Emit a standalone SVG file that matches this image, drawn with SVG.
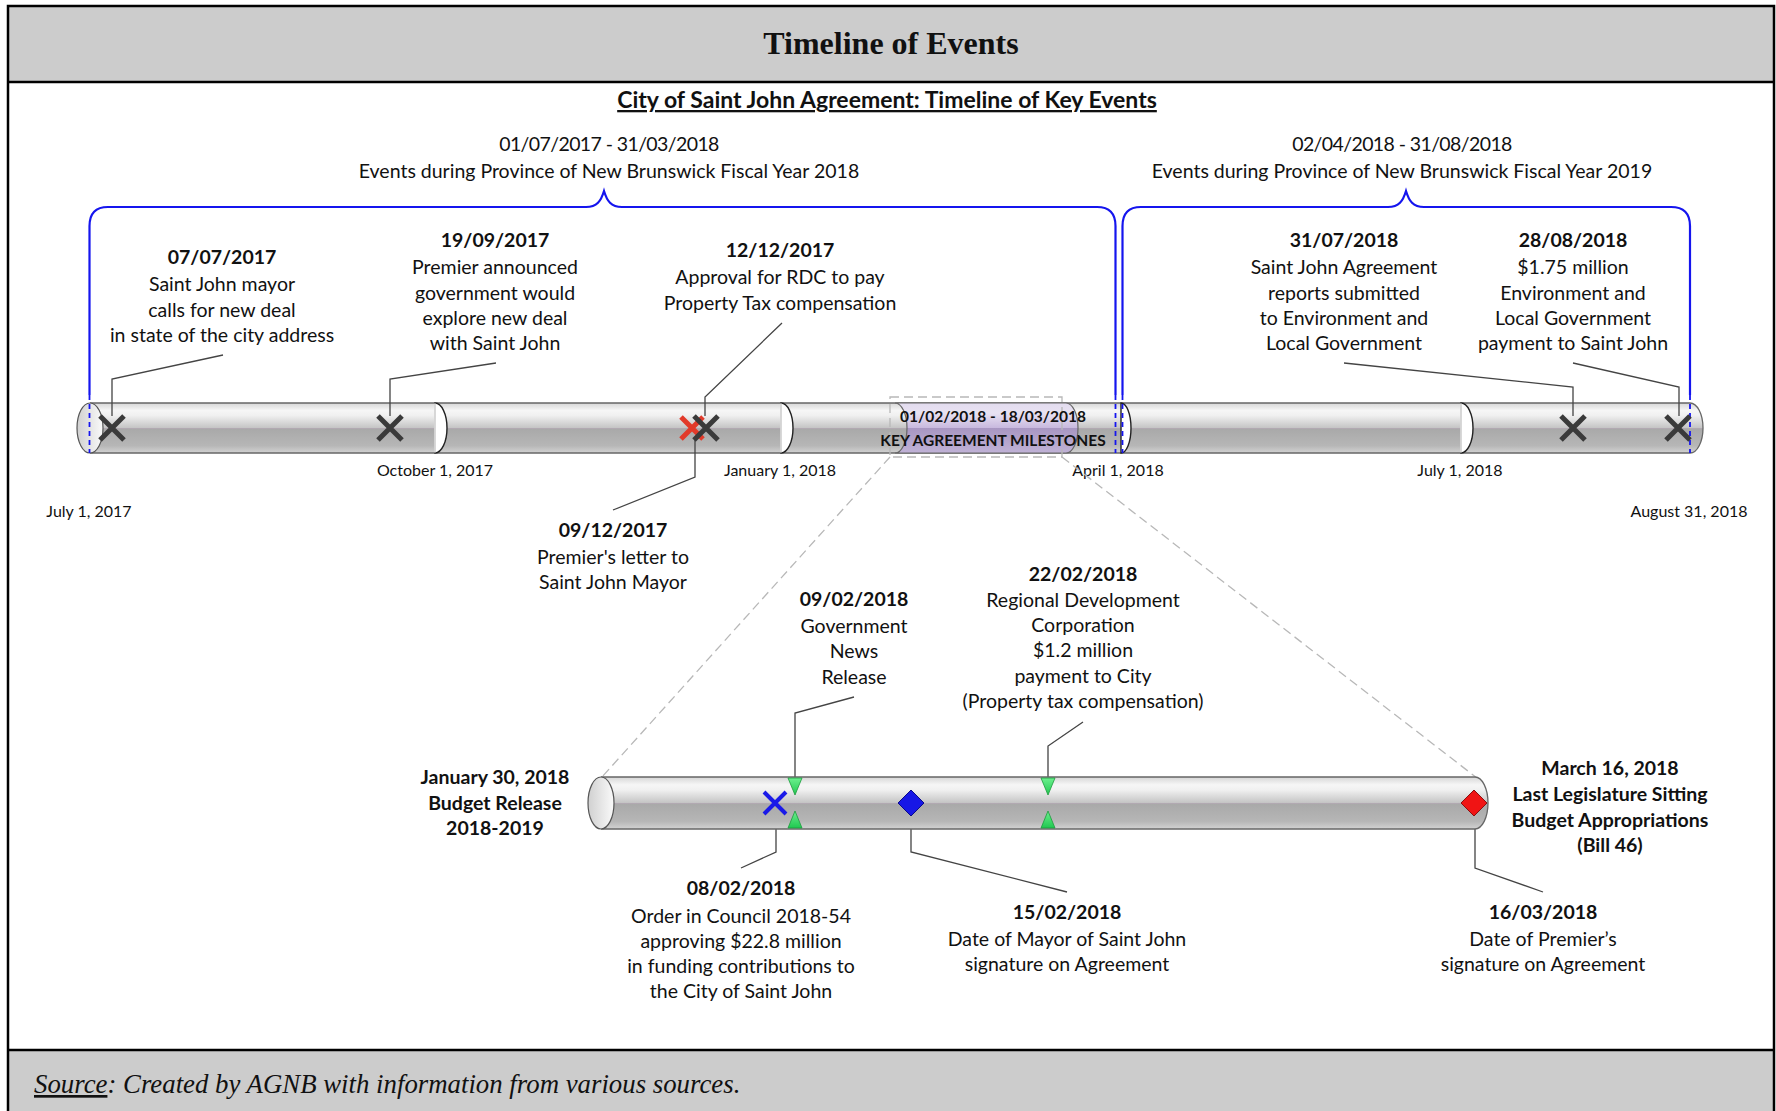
<svg xmlns="http://www.w3.org/2000/svg" width="1776" height="1111" viewBox="0 0 1776 1111">
<defs>
<style>
.t{font-family:Lato,"Liberation Sans",sans-serif;font-size:19.5px;fill:#111;text-anchor:middle}
.b{font-weight:bold}
.ax{font-family:Lato,"Liberation Sans",sans-serif;font-size:16px;fill:#111;text-anchor:middle}
.ms{font-family:Lato,"Liberation Sans",sans-serif;font-size:15.5px;font-weight:bold;fill:#111;text-anchor:middle}
.ld{fill:none;stroke:#444;stroke-width:1.3}
.brace{fill:none;stroke:#1515ee;stroke-width:2.2}
.bdash{fill:none;stroke:#1515ee;stroke-width:1.8;stroke-dasharray:5 4}
.xm{stroke:#3a3a3a;stroke-width:5;fill:none}
.edge{fill:none;stroke:#666;stroke-width:1.3}
.div{fill:#fff;stroke:#222;stroke-width:1.4}
.tri{fill:url(#gGreen);stroke:#1c9a3c;stroke-width:0.8}
.zoom{fill:none;stroke:#b8b8b8;stroke-width:1.3;stroke-dasharray:9 5}
</style>
<linearGradient id="gTube" x1="0" y1="0" x2="0" y2="1">
<stop offset="0" stop-color="#d6d6d6"/>
<stop offset="0.15" stop-color="#f6f6f6"/>
<stop offset="0.25" stop-color="#f0f0f0"/>
<stop offset="0.49" stop-color="#c6c6c6"/>
<stop offset="0.5" stop-color="#b9a9b9"/>
<stop offset="0.52" stop-color="#a9a9a9"/>
<stop offset="0.85" stop-color="#b6b6b6"/>
<stop offset="1" stop-color="#d2d2d2"/>
</linearGradient>
<linearGradient id="gCap" x1="0" y1="0" x2="1" y2="0">
<stop offset="0" stop-color="#d0d0d0"/>
<stop offset="1" stop-color="#fafafa"/>
</linearGradient>
<linearGradient id="gPurple" x1="0" y1="0" x2="0" y2="1">
<stop offset="0" stop-color="#e2dbee"/>
<stop offset="0.2" stop-color="#e8e2f2"/>
<stop offset="0.49" stop-color="#c9badf"/>
<stop offset="0.5" stop-color="#a896c2"/>
<stop offset="1" stop-color="#c0b2d6"/>
</linearGradient>
<linearGradient id="gGreen" x1="0" y1="0" x2="0" y2="1">
<stop offset="0" stop-color="#6cf08e"/>
<stop offset="1" stop-color="#20c850"/>
</linearGradient>
</defs>

<!-- frame -->
<rect x="0" y="0" width="1776" height="1111" fill="#fff"/>
<rect x="8" y="6" width="1766" height="76" fill="#cccccc"/>
<rect x="8" y="1050" width="1766" height="61" fill="#cccccc"/>
<path d="M8,1111 V6 H1774 V1111" fill="none" stroke="#000" stroke-width="2.5"/>
<line x1="8" y1="82" x2="1774" y2="82" stroke="#000" stroke-width="2.5"/>
<line x1="8" y1="1050" x2="1774" y2="1050" stroke="#000" stroke-width="2.5"/>
<text x="891" y="54" font-family="'Liberation Serif',serif" font-size="32" font-weight="bold" text-anchor="middle" fill="#111">Timeline of Events</text>
<text x="34" y="1093" font-family="'Liberation Serif',serif" font-size="26.8" font-style="italic" fill="#111"><tspan text-decoration="underline">Source</tspan>: Created by AGNB with information from various sources.</text>

<text class="t b" x="887" y="108" font-size="23" style="font-size:23px" text-decoration="underline">City of Saint John Agreement: Timeline of Key Events</text>

<!-- period headers -->
<g id="period-fy2018">
<text class="t" x="609" y="151" letter-spacing="-0.6">01/07/2017 - 31/03/2018</text>
<text class="t" x="609" y="178">Events during Province of New Brunswick Fiscal Year 2018</text>
<path class="brace" d="M89.5,395 V226 Q89.5,207 108,207 H586 C597,207 601,201 604,191 C607,201 611,207 622,207 H1097 Q1115.5,207 1115.5,226 V395"/>
</g>
<g id="period-fy2019">
<text class="t" x="1402" y="151" letter-spacing="-0.6">02/04/2018 - 31/08/2018</text>
<text class="t" x="1402" y="178">Events during Province of New Brunswick Fiscal Year 2019</text>
<path class="brace" d="M1122.5,395 V226 Q1122.5,207 1141,207 H1388 C1399,207 1403,201 1406,191 C1409,201 1413,207 1424,207 H1671 Q1690,207 1690,226 V395"/>
</g>

<!-- main timeline tube -->
<g id="main-timeline">
<rect x="90" y="403" width="1600" height="50" fill="url(#gTube)"/>
<path d="M1690,403 A13,25 0 0 1 1690,453" fill="url(#gTube)" stroke="#666" stroke-width="1.3"/>
<line class="edge" x1="90" y1="403" x2="1690" y2="403"/>
<line class="edge" x1="90" y1="453" x2="1690" y2="453"/>
<ellipse cx="90" cy="428" rx="13" ry="25" fill="url(#gCap)" stroke="#555" stroke-width="1.2"/>
<path class="div" d="M435,403 A12,25 0 0 1 435,453 Z"/>
<path class="div" d="M781,403 A12,25 0 0 1 781,453 Z"/>
<path class="div" d="M1121,403 A10,25 0 0 1 1121,453 Z"/>
<path class="div" d="M1461,403 A12,25 0 0 1 1461,453 Z"/>
<line x1="435" y1="403.6" x2="435" y2="452.4" stroke="#fff" stroke-width="1.5"/>
<line x1="781" y1="403.6" x2="781" y2="452.4" stroke="#fff" stroke-width="1.5"/>
<line x1="1461" y1="403.6" x2="1461" y2="452.4" stroke="#fff" stroke-width="1.5"/>
<path class="bdash" d="M89.5,395 V453 M1115.5,395 V453 M1122.5,395 V453 M1690,395 V453"/>
<text class="ax" x="435" y="476">October 1, 2017</text>
<text class="ax" x="780" y="476">January 1, 2018</text>
<text class="ax" x="1118" y="476">April 1, 2018</text>
<text class="ax" x="1460" y="476">July 1, 2018</text>
<text class="ax" x="89" y="517">July 1, 2017</text>
<text class="ax" x="1689" y="517">August 31, 2018</text>
</g>

<!-- key milestones zone -->
<g id="key-milestones">
<path d="M895,403 A12,25 0 0 1 895,453 H1066 A12,25 0 0 0 1066,403 Z" fill="url(#gPurple)" stroke="#666" stroke-width="1.2"/>
<rect class="zoom" x="890" y="397" width="172" height="60"/>
<text class="ms" x="993" y="422">01/02/2018 - 18/03/2018</text>
<text class="ms" x="993" y="446">KEY AGREEMENT MILESTONES</text>
</g>

<!-- connectors -->
<g id="connectors">
<path class="ld" d="M223,355 L112,379 V416"/>
<path class="ld" d="M496,363 L390,379 V416"/>
<path class="ld" d="M782,323 L705,397 V416"/>
<path class="ld" d="M695,440 V477 L613,510"/>
<path class="ld" d="M1344,363 L1573,387 V416"/>
<path class="ld" d="M1573,363 L1679,387 V416"/>
<path class="zoom" d="M890,457 L602,777"/>
<path class="zoom" d="M1062,457 L1477,778"/>
<path class="ld" d="M854,697 L795,713 V778"/>
<path class="ld" d="M1083,722 L1048,746 V778"/>
<path class="ld" d="M776,815 V852 L741,868"/>
<path class="ld" d="M911,816 V852 L1067,892"/>
<path class="ld" d="M1475,816 V868 L1543,892"/>
</g>

<!-- upper events -->
<g id="ev-20170707">
<path class="xm" d="M100,416 L124,440 M124,416 L100,440"/>
<text class="t b" x="222" y="264">07/07/2017</text>
<text class="t" x="222" y="291">Saint John mayor</text>
<text class="t" x="222" y="317">calls for new deal</text>
<text class="t" x="222" y="342">in state of the city address</text>
</g>
<g id="ev-20170919">
<path class="xm" d="M378,416 L402,440 M402,416 L378,440"/>
<text class="t b" x="495" y="247">19/09/2017</text>
<text class="t" x="495" y="274">Premier announced</text>
<text class="t" x="495" y="300">government would</text>
<text class="t" x="495" y="325">explore new deal</text>
<text class="t" x="495" y="350">with Saint John</text>
</g>
<g id="ev-20171209">
<path d="M681,417 L703,439 M703,417 L681,439" stroke="#e23a2a" stroke-width="5" fill="none"/>
<text class="t b" x="613" y="537">09/12/2017</text>
<text class="t" x="613" y="564">Premier's letter to</text>
<text class="t" x="613" y="589">Saint John Mayor</text>
</g>
<g id="ev-20171212">
<path class="xm" d="M694,416 L718,440 M718,416 L694,440"/>
<text class="t b" x="780" y="257">12/12/2017</text>
<text class="t" x="780" y="284">Approval for RDC to pay</text>
<text class="t" x="780" y="310">Property Tax compensation</text>
</g>
<g id="ev-20180731">
<path class="xm" d="M1561,416 L1585,440 M1585,416 L1561,440"/>
<text class="t b" x="1344" y="247">31/07/2018</text>
<text class="t" x="1344" y="274">Saint John Agreement</text>
<text class="t" x="1344" y="300">reports submitted</text>
<text class="t" x="1344" y="325">to Environment and</text>
<text class="t" x="1344" y="350">Local Government</text>
</g>
<g id="ev-20180828">
<path class="xm" d="M1666,416 L1690,440 M1690,416 L1666,440"/>
<text class="t b" x="1573" y="247">28/08/2018</text>
<text class="t" x="1573" y="274">$1.75 million</text>
<text class="t" x="1573" y="300">Environment and</text>
<text class="t" x="1573" y="325">Local Government</text>
<text class="t" x="1573" y="350">payment to Saint John</text>
</g>

<!-- detail tube -->
<g id="detail-timeline">
<rect x="601" y="777" width="874" height="52" fill="url(#gTube)"/>
<path d="M1475,777 A13,26 0 0 1 1475,829" fill="url(#gTube)" stroke="#666" stroke-width="1.3"/>
<line class="edge" x1="601" y1="777" x2="1475" y2="777"/>
<line class="edge" x1="601" y1="829" x2="1475" y2="829"/>
<ellipse cx="601" cy="803" rx="13" ry="26" fill="url(#gCap)" stroke="#555" stroke-width="1.2"/>
</g>
<g id="start-budget">
<text class="t b" x="495" y="784">January 30, 2018</text>
<text class="t b" x="495" y="810">Budget Release</text>
<text class="t b" x="495" y="835">2018-2019</text>
</g>
<g id="end-legislature">
<text class="t b" x="1610" y="775">March 16, 2018</text>
<text class="t b" x="1610" y="801">Last Legislature Sitting</text>
<text class="t b" x="1610" y="827">Budget Appropriations</text>
<text class="t b" x="1610" y="852">(Bill 46)</text>
</g>
<g id="ev-20180208">
<path d="M764,792 L786,814 M786,792 L764,814" stroke="#1a1ae8" stroke-width="4" fill="none"/>
<text class="t b" x="741" y="895">08/02/2018</text>
<text class="t" x="741" y="923">Order in Council 2018-54</text>
<text class="t" x="741" y="948">approving $22.8 million</text>
<text class="t" x="741" y="973">in funding contributions to</text>
<text class="t" x="741" y="998">the City of Saint John</text>
</g>
<g id="ev-20180209">
<polygon class="tri" points="788,778 802,778 795,795"/>
<polygon class="tri" points="788,828 802,828 795,811"/>
<text class="t b" x="854" y="606">09/02/2018</text>
<text class="t" x="854" y="633">Government</text>
<text class="t" x="854" y="658">News</text>
<text class="t" x="854" y="684">Release</text>
</g>
<g id="ev-20180215">
<polygon points="911,790 924,803 911,816 898,803" fill="#1717e6" stroke="#0a0a8a" stroke-width="1"/>
<text class="t b" x="1067" y="919">15/02/2018</text>
<text class="t" x="1067" y="946">Date of Mayor of Saint John</text>
<text class="t" x="1067" y="971">signature on Agreement</text>
</g>
<g id="ev-20180222">
<polygon class="tri" points="1041,778 1055,778 1048,795"/>
<polygon class="tri" points="1041,828 1055,828 1048,811"/>
<text class="t b" x="1083" y="581">22/02/2018</text>
<text class="t" x="1083" y="607">Regional Development</text>
<text class="t" x="1083" y="632">Corporation</text>
<text class="t" x="1083" y="657">$1.2 million</text>
<text class="t" x="1083" y="683">payment to City</text>
<text class="t" x="1083" y="708">(Property tax compensation)</text>
</g>
<g id="ev-20180316">
<polygon points="1474,790 1487,803 1474,816 1461,803" fill="#f01414" stroke="#8a1010" stroke-width="1"/>
<text class="t b" x="1543" y="919">16/03/2018</text>
<text class="t" x="1543" y="946">Date of Premier’s</text>
<text class="t" x="1543" y="971">signature on Agreement</text>
</g>
</svg>
